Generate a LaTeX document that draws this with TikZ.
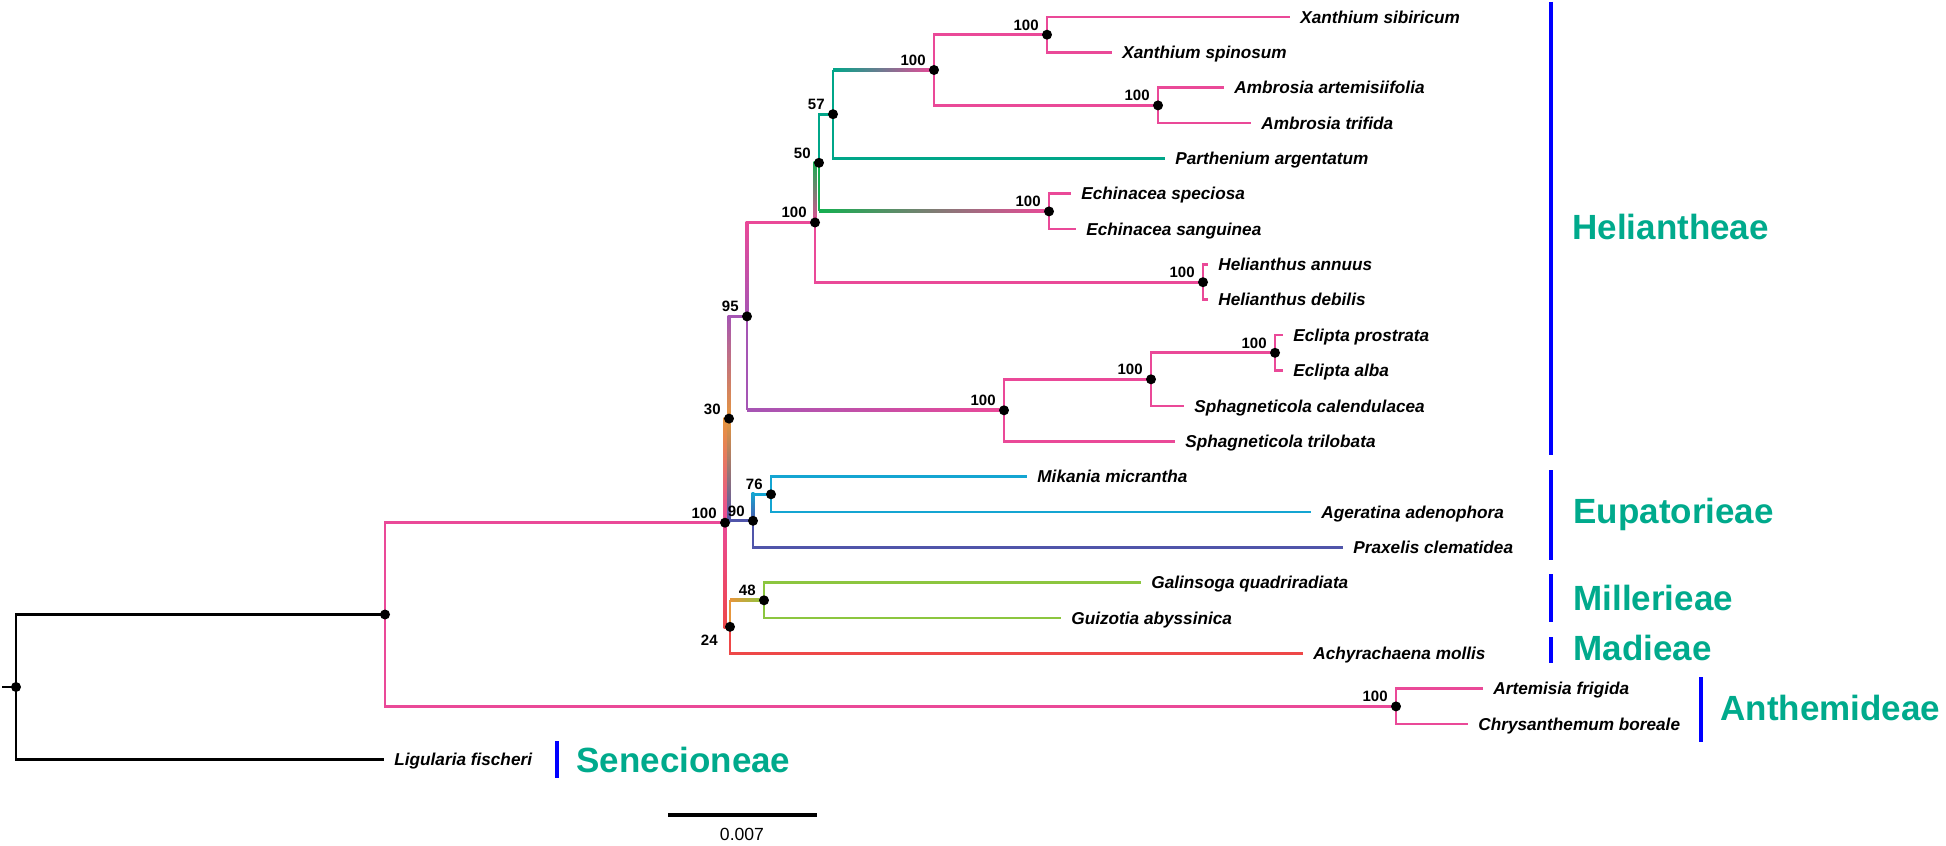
\documentclass[tikz,border=0pt]{standalone}
\usepackage{fontspec}
\setmainfont{Liberation Sans}
\usetikzlibrary{calc}

\definecolor{pinkbr}{RGB}{234,73,152}
\definecolor{tealbr}{RGB}{0,166,137}
\definecolor{greenbr}{RGB}{20,175,80}
\definecolor{purplebr}{RGB}{165,85,180}
\definecolor{orangebr}{RGB}{230,150,60}
\definecolor{indigobr}{RGB}{80,85,170}
\definecolor{cyanbr}{RGB}{20,165,210}
\definecolor{limebr}{RGB}{140,198,63}
\definecolor{redbr}{RGB}{238,72,72}
\definecolor{cladebar}{RGB}{0,0,255}
\definecolor{cladename}{RGB}{0,170,140}

% gradient pieces of a branch (horizontal / vertical)
\newcommand{\hshade}[4]{\shade[left color=#3, right color=#4] ($(#1)+(0,-1.4)$) rectangle ($(#2)+(0,1.4)$);}
\newcommand{\vshade}[4]{\shade[top color=#3, bottom color=#4] ($(#1)+(-1.4,-1.4)$) rectangle ($(#2)+(1.4,1.4)$);}

\begin{document}
\begin{tikzpicture}[
    x=0.5pt, y=-0.5pt,
    br/.style={line width=1.4pt},
    taxon/.style={
        anchor=west,
        inner xsep=5pt,
        inner ysep=0pt,
        text height=6.15pt,
        text depth=0pt,
        font=\bfseries\itshape\fontsize{8.6}{10}\selectfont
    },
    boot/.style={
        anchor=base east,
        inner sep=0pt,
        xshift=-4pt,
        yshift=2.3pt,
        font=\bfseries\fontsize{7.5}{9}\selectfont
    },
    clade/.style={
        anchor=base west,
        inner sep=0pt,
        text=cladename,
        font=\bfseries\fontsize{17.5}{20}\selectfont
    },
    bar/.style={cladebar, line width=2.2pt}
]
\useasboundingbox (0,0) rectangle (1946,845);

% taxa
\node[taxon] (xsib) at (1290,17.0) {Xanthium sibiricum};
\node[taxon] (xspi) at (1112,52.4) {Xanthium spinosum};
\node[taxon] (aart) at (1224,87.7) {Ambrosia artemisiifolia};
\node[taxon] (atri) at (1251,123.0) {Ambrosia trifida};
\node[taxon] (parg) at (1165,158.4) {Parthenium argentatum};
\node[taxon] (espe) at (1071,193.8) {Echinacea speciosa};
\node[taxon] (esan) at (1076,229.0) {Echinacea sanguinea};
\node[taxon] (hann) at (1208,264.5) {Helianthus annuus};
\node[taxon] (hdeb) at (1208,299.8) {Helianthus debilis};
\node[taxon] (epro) at (1283,335.0) {Eclipta prostrata};
\node[taxon] (ealb) at (1283,370.5) {Eclipta alba};
\node[taxon] (scal) at (1184,405.9) {Sphagneticola calendulacea};
\node[taxon] (stri) at (1175,441.2) {Sphagneticola trilobata};
\node[taxon] (mmic) at (1027,476.6) {Mikania micrantha};
\node[taxon] (aade) at (1311,512.0) {Ageratina adenophora};
\node[taxon] (pcle) at (1343,547.3) {Praxelis clematidea};
\node[taxon] (gqua) at (1141,582.6) {Galinsoga quadriradiata};
\node[taxon] (gaby) at (1061,618.0) {Guizotia abyssinica};
\node[taxon] (amol) at (1303,653.3) {Achyrachaena mollis};
\node[taxon] (afri) at (1483,688.7) {Artemisia frigida};
\node[taxon] (cbor) at (1468,724.0) {Chrysanthemum boreale};
\node[taxon] (lfis) at (384,759.4) {Ligularia fischeri};

% internal nodes
\coordinate (rootstub) at (2,687);
\coordinate (root) at (16,687);
\coordinate (nast) at (385,614.5);
\coordinate (ning) at (725,522.7);
\coordinate (n30) at (729,418.6);
\coordinate (n95) at (747,316.4);
\coordinate (nhc) at (815,222.5);
\coordinate (n50) at (819,162.8);
\coordinate (n57) at (833,114.2);
\coordinate (nxa) at (934,70.0);
\coordinate (nxan) at (1047,34.7);
\coordinate (namb) at (1158,105.4);
\coordinate (nech) at (1049,211.4);
\coordinate (nhel) at (1203,282.2);
\coordinate (nsph) at (1004,410.3);
\coordinate (nes) at (1151,379.3);
\coordinate (necl) at (1275,352.8);
\coordinate (n90) at (753,520.8);
\coordinate (n76) at (771,494.3);
\coordinate (n24) at (730,626.8);
\coordinate (n48) at (764,600.3);
\coordinate (nant) at (1396,706.4);

% outgroup and backbone
\draw[br] (rootstub) -- (root);
\draw[br] (root) |- (nast);
\draw[br] (root) |- (lfis.west);
\draw[br, pinkbr] (nast) |- (ning);
\draw[br, pinkbr] (nast) |- (nant);
\draw[br, pinkbr] (nant) |- (afri.west);
\draw[br, pinkbr] (nant) |- (cbor.west);

\vshade{ning |- n30}{ning}{orangebr}{pinkbr}
\draw[br, orangebr] (ning |- n30) -- (n30);
\vshade{ning}{ning |- n24}{pinkbr}{redbr}
\draw[br, redbr] (ning |- n24) -- (n24);

% Heliantheae
\vshade{n30 |- n95}{n30}{purplebr}{orangebr}
\draw[br, purplebr] (n30 |- n95) -- (n95);
\vshade{n95 |- nhc}{n95}{pinkbr}{purplebr}
\draw[br, pinkbr] (n95 |- nhc) -- (nhc);
\draw[br, purplebr] (n95) -- (n95 |- nsph);
\hshade{n95 |- nsph}{nsph}{purplebr}{pinkbr}
\vshade{nhc |- n50}{nhc}{greenbr}{pinkbr}
\draw[br, greenbr] (nhc |- n50) -- (n50);
\draw[br, pinkbr] (nhc) |- (nhel);
\draw[br, tealbr] (n50) |- (n57);
\draw[br, greenbr] (n50) -- (n50 |- nech);
\hshade{n50 |- nech}{nech}{greenbr}{pinkbr}
\draw[br, tealbr] (n57) -- (n57 |- nxa);
\hshade{n57 |- nxa}{nxa}{tealbr}{pinkbr}
\draw[br, tealbr] (n57) |- (parg.west);
\draw[br, pinkbr] (nxa) |- (nxan);
\draw[br, pinkbr] (nxa) |- (namb);
\draw[br, pinkbr] (nxan) |- (xsib.west);
\draw[br, pinkbr] (nxan) |- (xspi.west);
\draw[br, pinkbr] (namb) |- (aart.west);
\draw[br, pinkbr] (namb) |- (atri.west);
\draw[br, pinkbr] (nech) |- (espe.west);
\draw[br, pinkbr] (nech) |- (esan.west);
\draw[br, pinkbr] (nhel) |- (hann.west);
\draw[br, pinkbr] (nhel) |- (hdeb.west);
\draw[br, pinkbr] (nsph) |- (nes);
\draw[br, pinkbr] (nsph) |- (stri.west);
\draw[br, pinkbr] (nes) |- (necl);
\draw[br, pinkbr] (nes) |- (scal.west);
\draw[br, pinkbr] (necl) |- (epro.west);
\draw[br, pinkbr] (necl) |- (ealb.west);

% Eupatorieae
\vshade{n30}{n30 |- n90}{orangebr}{indigobr}
\draw[br, indigobr] (n30 |- n90) -- (n90);
\vshade{n90 |- n76}{n90}{cyanbr}{indigobr}
\draw[br, cyanbr] (n90 |- n76) -- (n76);
\draw[br, indigobr] (n90) |- (pcle.west);
\draw[br, cyanbr] (n76) |- (mmic.west);
\draw[br, cyanbr] (n76) |- (aade.west);

% Millerieae and Madieae
\draw[br, orangebr] (n24) -- (n24 |- n48);
\hshade{n24 |- n48}{n48}{orangebr}{limebr}
\draw[br, redbr] (n24) |- (amol.west);
\draw[br, limebr] (n48) |- (gqua.west);
\draw[br, limebr] (n48) |- (gaby.west);

\foreach \n in {root,nast,ning,n30,n95,nhc,n50,n57,nxa,nxan,namb,nech,nhel,nsph,nes,necl,n90,n76,n24,n48,nant}
    \fill (\n) circle (2.5pt);

\foreach \n/\v in {nxan/100, nxa/100, namb/100, n57/57, n50/50, nech/100, nhc/100, nhel/100, n95/95, necl/100, nes/100, nsph/100, n30/30, n76/76, n90/90, ning/100, n48/48, nant/100}
    \node[boot] at (\n) {\v};
\node[boot, anchor=north east, xshift=-2pt, yshift=-6pt] at (n24) {24};

% tribes
\draw[bar] (1551,2) -- (1551,455);
\draw[bar] (1551,470) -- (1551,560);
\draw[bar] (1551,574) -- (1551,622);
\draw[bar] (1551,637) -- (1551,663);
\draw[bar] (1701,677) -- (1701,742);
\draw[bar] (557,741) -- (557,778);
\node[clade] (helia) at (1572,240) {Heliantheae};
\node[clade] (eupat) at (1573,523) {Eupatorieae};
\node[clade] (mille) at (1573,610) {Millerieae};
\node[clade] (madie) at (1573,660) {Madieae};
\node[clade] (anthe) at (1720,720) {Anthemideae};
\node[clade] (senec) at (576,772) {Senecioneae};

% scale
\coordinate (scaleL) at (668,815);
\coordinate (scaleR) at (817,815);
\draw[line width=2pt] (scaleL) -- (scaleR);
\node[anchor=base, inner sep=0pt, font=\fontsize{8.8}{10}\selectfont] (scaletxt) at (742,840) {0.007};

\end{tikzpicture}
\end{document}
